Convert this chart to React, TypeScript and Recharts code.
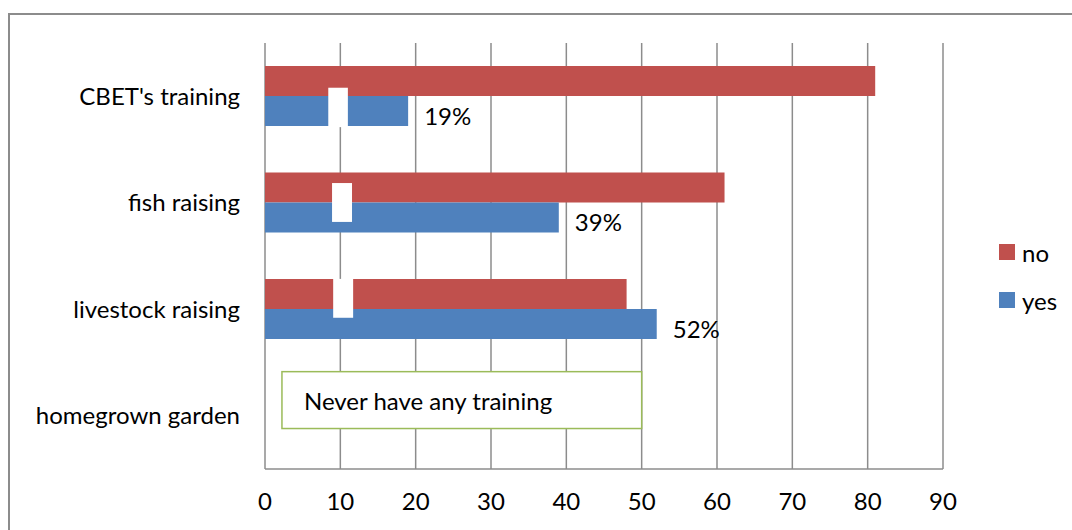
import { BarChart, Bar, XAxis, YAxis, CartesianGrid, Legend, LabelList, ReferenceArea } from 'recharts';

const categories = ["CBET's training", 'fish raising', 'livestock raising', 'homegrown garden'];
const noValues = [81, 61, 48, null];
const yesValues = [19, 39, 52, null];
const xTicks = [0, 10, 20, 30, 40, 50, 60, 70, 80, 90];

// small white boxes sitting over the bars: x in data units, top/bottom as fractions of the row
const maskBoxes = [
  { row: categories[0], x1: 8.4, x2: 11.0, top: 0.42, bottom: 0.79 },
  { row: categories[1], x1: 8.9, x2: 11.55, top: 0.315, bottom: 0.68 },
  { row: categories[2], x1: 9.05, x2: 11.7, top: 0.215, bottom: 0.58 },
];

const noteText = 'Never have any training';
const noteBox = { row: categories[3], x1: 2.25, x2: 50, top: 0.086, bottom: 0.62 };

const FONT = 'Lato, "Noto Sans", sans-serif';
const RED = '#C0504D';
const BLUE = '#4F81BD';
const GRID = '#8C8C8C';

const data = categories.map((name, i) => ({ name, no: noValues[i], yes: yesValues[i] }));

function PercentLabel(props: any) {
  const { x, y, width, height, value } = props;
  if (value == null) return null;
  return (
    <text x={x + width + 16} y={y + height / 2 + 4} fontSize={24} fill="#000" dominantBaseline="central" fontFamily={FONT}>
      {value}%
    </text>
  );
}

function rowPart(top: number, bottom: number, opts: { stroke?: string; text?: string }) {
  return (p: any) => {
    const y = p.y + p.height * top;
    const h = p.height * (bottom - top);
    return (
      <g>
        <rect x={p.x} y={y} width={p.width} height={h} fill="#fff" stroke={opts.stroke || 'none'} strokeWidth={1.5} />
        {opts.text && (
          <text x={p.x + 22} y={y + h / 2} fontSize={24} fill="#000" dominantBaseline="central" fontFamily={FONT}>
            {opts.text}
          </text>
        )}
      </g>
    );
  };
}

function SideLegend({ payload }: any) {
  return (
    <div style={{ fontFamily: FONT, fontSize: 24, color: '#000' }}>
      {(payload || []).map((p: any) => (
        <div key={p.value} style={{ display: 'flex', alignItems: 'center', height: 48 }}>
          <span style={{ width: 16, height: 16, background: p.color, marginRight: 7, display: 'inline-block' }} />
          {p.value}
        </div>
      ))}
    </div>
  );
}

export default function App() {
  return (
    <div style={{ position: 'absolute', left: 0, top: 0, width: 1072, height: 530, overflow: 'hidden', background: '#fff' }}>
      <div style={{ position: 'absolute', left: 8, top: 13, width: 1200, height: 700, border: `2px solid ${GRID}` }} />
      <div style={{ position: 'absolute', left: 0, top: 0 }}>
        <BarChart
          width={1072}
          height={530}
          data={data}
          layout="vertical"
          margin={{ top: 43, right: 49, bottom: 21, left: 10 }}
          barSize={30}
          barGap={0}
        >
          <CartesianGrid horizontal={false} stroke={GRID} strokeWidth={1.5} />
          <XAxis
            type="number"
            domain={[0, 90]}
            ticks={xTicks}
            interval={0}
            height={40}
            axisLine={{ stroke: GRID, strokeWidth: 1.5 }}
            tickLine={false}
            tickMargin={18}
            tick={{ fontSize: 24, fill: '#000', fontFamily: FONT }}
          />
          <YAxis
            type="category"
            dataKey="name"
            width={255}
            axisLine={false}
            tickLine={false}
            tickSize={0}
            tickMargin={25}
            tick={{ fontSize: 24, fill: '#000', fontFamily: FONT }}
          />
          <Legend
            layout="vertical"
            verticalAlign="top"
            align="right"
            content={<SideLegend />}
            wrapperStyle={{ left: 999, top: 228, width: 80 }}
          />
          <Bar dataKey="no" name="no" fill={RED} isAnimationActive={false} />
          <Bar dataKey="yes" name="yes" fill={BLUE} isAnimationActive={false}>
            <LabelList dataKey="yes" content={<PercentLabel />} />
          </Bar>
          {maskBoxes.map((b, i) => (
            <ReferenceArea
              key={i}
              x1={b.x1}
              x2={b.x2}
              y1={b.row}
              y2={b.row}
              zIndex={350}
              shape={rowPart(b.top, b.bottom, {})}
            />
          ))}
          <ReferenceArea
            x1={noteBox.x1}
            x2={noteBox.x2}
            y1={noteBox.row}
            y2={noteBox.row}
            zIndex={350}
            shape={rowPart(noteBox.top, noteBox.bottom, { stroke: '#9BBB59', text: noteText })}
          />
        </BarChart>
      </div>
    </div>
  );
}
